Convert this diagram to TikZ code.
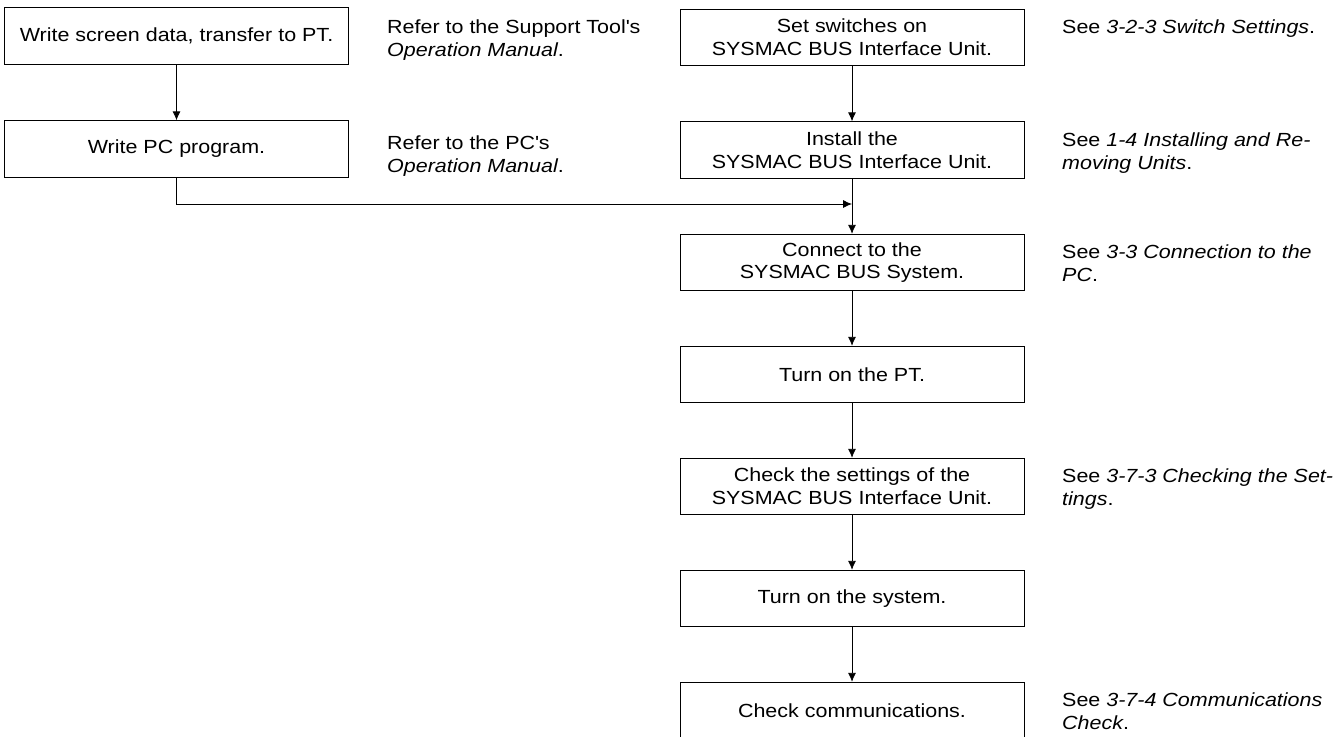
\documentclass[tikz,border=0pt]{standalone}
\usepackage{fontspec}
\setmainfont[FakeStretch=1.13]{Liberation Sans}
\usetikzlibrary{arrows.meta}
\tikzset{
  txt/.style={font=\fontsize{19}{22.7}\selectfont},
  box/.style={draw=black, line width=0.8pt, minimum height=56.5pt, minimum width=344pt,
    inner sep=0pt, align=center, txt},
  note/.style={anchor=base west, inner sep=0pt, align=left, txt},
  conn/.style={line width=0.8pt, -{Latex[length=9pt,width=8pt]}},
}
\begin{document}
\begin{tikzpicture}[x=1pt,y=-1pt]
\useasboundingbox (0,0) rectangle (1338,736);
% left column
\node[box] (l1) at (176.5,36) {Write screen data, transfer to PT.};
\node[box] (l2) at (176.5,149) {Write PC program.};
\node[note] (n1) at (387,56) {Refer to the Support Tool\textquotesingle s\\\textit{Operation Manual}.};
\node[note] (n2) at (387,172) {Refer to the PC\textquotesingle s\\\textit{Operation Manual}.};
% right column
\node[box] (r1) at (852,37.5) {Set switches on\\SYSMAC BUS Interface Unit.};
\node[box] (r2) at (852,150) {Install the\\SYSMAC BUS Interface Unit.};
\node[box] (r3) at (852,262.5) {Connect to the\\SYSMAC BUS System.};
\node[box] (r4) at (852,374.5) {Turn on the PT.};
\node[box] (r5) at (852,486.5) {Check the settings of the\\SYSMAC BUS Interface Unit.};
\node[box] (r6) at (852,598.5) {Turn on the system.};
\node[box] (r7) at (852,710.5) {Check communications.};
\node[note] (m1) at (1062,33.5) {See \textit{3-2-3 Switch Settings}.};
\node[note] (m2) at (1062,169) {See \textit{1-4 Installing and Re-}\\\textit{moving Units}.};
\node[note] (m3) at (1062,281) {See \textit{3-3 Connection to the}\\\textit{PC}.};
\node[note] (m5) at (1062,505) {See \textit{3-7-3 Checking the Set-}\\\textit{tings}.};
\node[note] (m7) at (1062,729) {See \textit{3-7-4 Communications}\\\textit{Check}.};
% connectors
\draw[conn] (l1) -- (l2);
\draw[conn] (r1) -- (r2);
\draw[conn] (r2) -- (r3);
\draw[conn] (r3) -- (r4);
\draw[conn] (r4) -- (r5);
\draw[conn] (r5) -- (r6);
\draw[conn] (r6) -- (r7);
\coordinate (j) at (r3.north |- 0,204);
\draw[conn] (l2.south) |- (j);
\end{tikzpicture}
\end{document}
